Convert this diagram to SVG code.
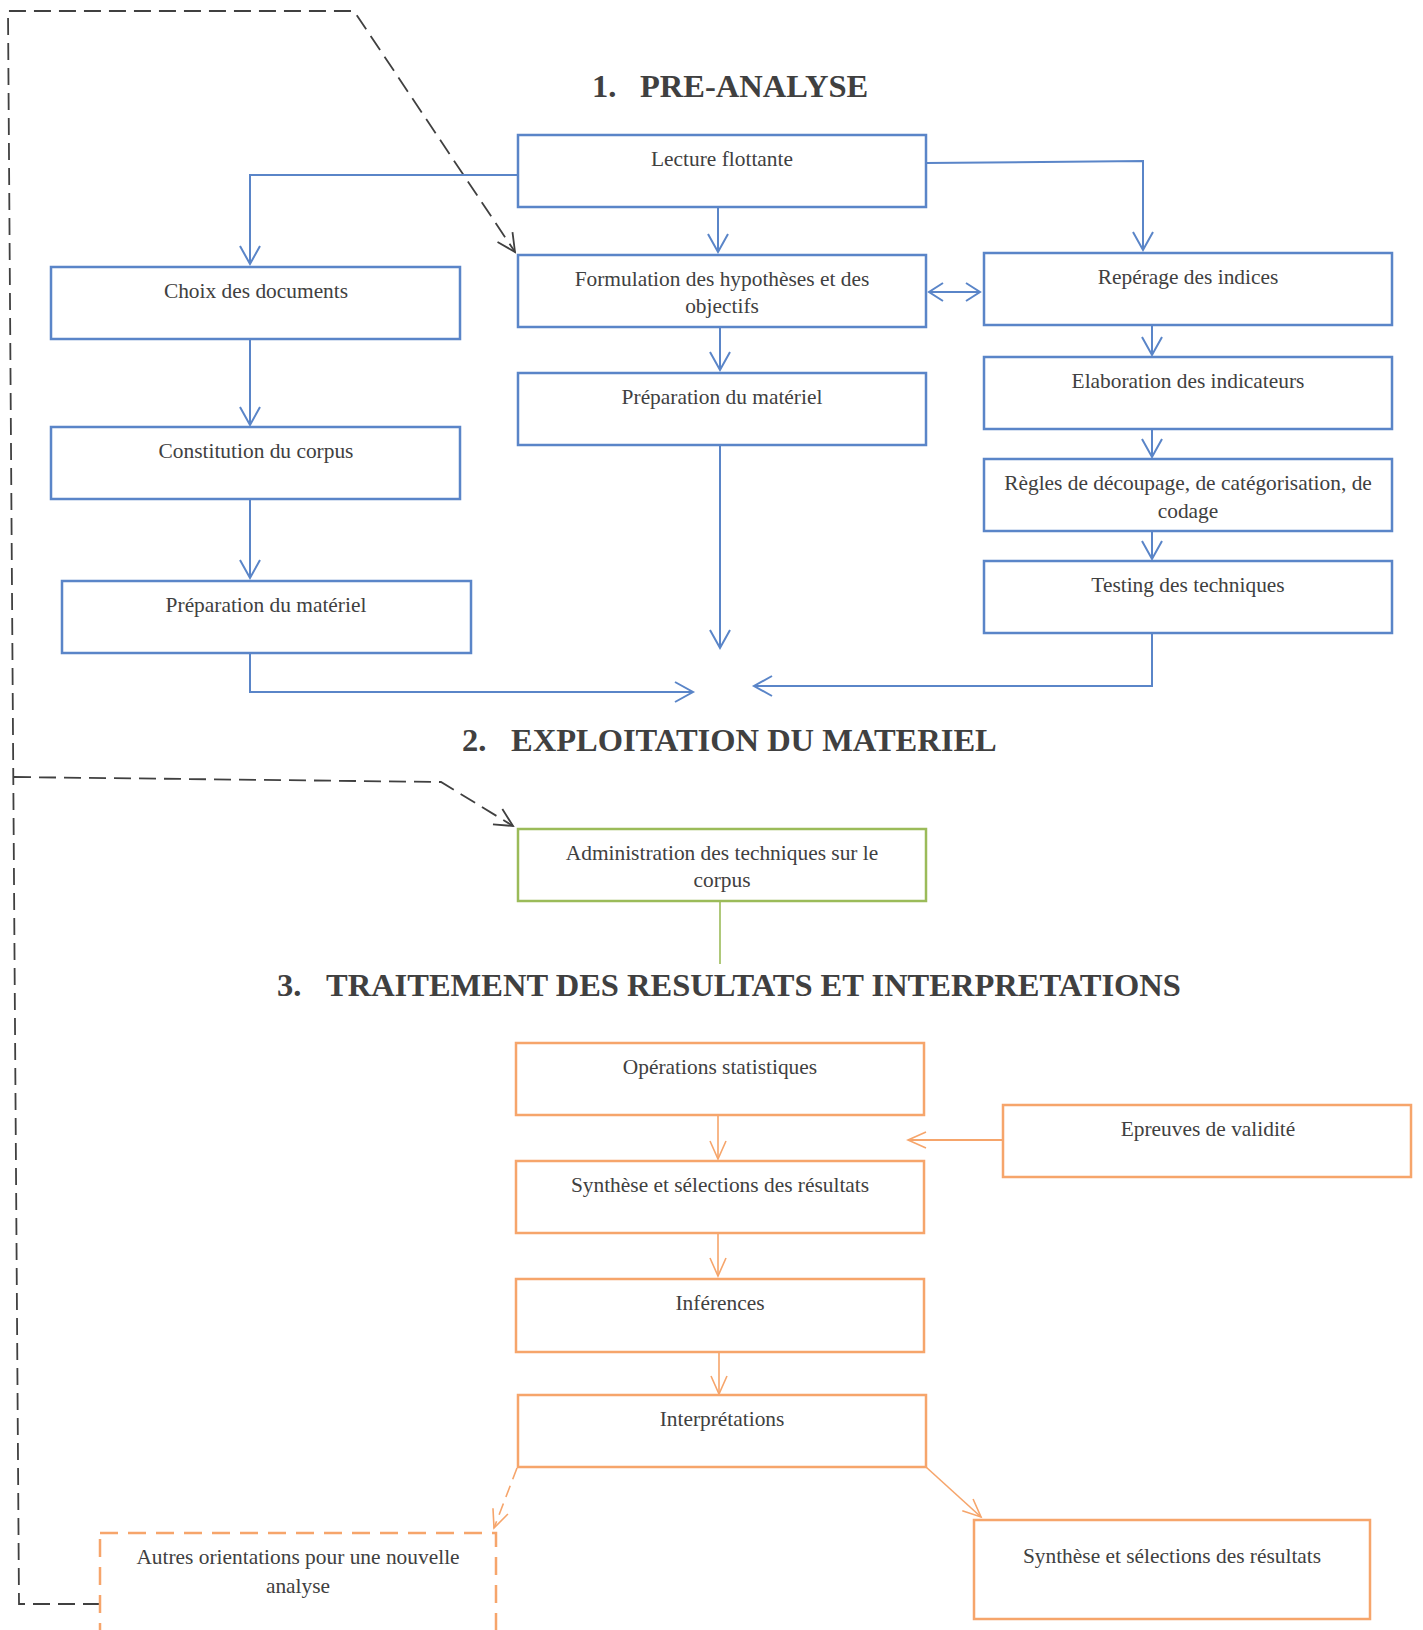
<svg xmlns="http://www.w3.org/2000/svg" width="1423" height="1630" viewBox="0 0 1423 1630">
<defs>
<style>
.t{font-family:"Liberation Serif","Times New Roman",serif;font-size:21.4px;fill:#404040;text-anchor:middle}
.h{font-family:"Liberation Serif","Times New Roman",serif;font-size:32.5px;font-weight:bold;fill:#404040}
.bb{fill:#fff;stroke:#5a85c8;stroke-width:2.5}
.ob{fill:#fff;stroke:#f6a56b;stroke-width:2.5}
.gb{fill:#fff;stroke:#9bbb59;stroke-width:2.5}
.bl{fill:none;stroke:#5a85c8;stroke-width:2}
.ol{fill:none;stroke:#f6a56b;stroke-width:1.6}
.dl{fill:none;stroke:#404040;stroke-width:1.8;stroke-dasharray:17 8}
</style>
<marker id="ab" markerWidth="24" markerHeight="24" viewBox="-20 -12 24 24" refX="0" refY="0" orient="auto" markerUnits="userSpaceOnUse"><path d="M-18,-10 L0,0 L-18,10" fill="none" stroke="#5a85c8" stroke-width="2"/></marker>
<marker id="abs" markerWidth="24" markerHeight="24" viewBox="-20 -12 24 24" refX="0" refY="0" orient="auto-start-reverse" markerUnits="userSpaceOnUse"><path d="M-14,-9 L0,0 L-14,9" fill="none" stroke="#5a85c8" stroke-width="2"/></marker>
<marker id="ao" markerWidth="24" markerHeight="24" viewBox="-20 -12 24 24" refX="0" refY="0" orient="auto" markerUnits="userSpaceOnUse"><path d="M-18,-8 L0,0 L-18,8" fill="none" stroke="#f6a56b" stroke-width="1.6"/></marker>
<marker id="ad" markerWidth="24" markerHeight="24" viewBox="-20 -12 24 24" refX="0" refY="0" orient="auto" markerUnits="userSpaceOnUse"><path d="M-18,-9 L0,0 L-18,9" fill="none" stroke="#404040" stroke-width="1.8"/></marker>
</defs>
<rect width="1423" height="1630" fill="#fff"/>

<g id="titles">
<text class="h" x="592" y="97">1.</text><text class="h" x="640" y="97">PRE-ANALYSE</text>
<text class="h" x="462" y="751">2.</text><text class="h" x="511" y="751">EXPLOITATION DU MATERIEL</text>
<text class="h" x="277" y="996">3.</text><text class="h" x="326" y="996">TRAITEMENT DES RESULTATS ET INTERPRETATIONS</text>
</g>

<g id="connectors">
<path class="dl" d="M100,1604 L19,1604 L8,11 L354,11 L515,252" marker-end="url(#ad)"/>
<path class="dl" d="M14,777 L441,782 L513,826" marker-end="url(#ad)"/>
<path class="bl" d="M518,175 L250,175 L250,264" marker-end="url(#ab)"/>
<path class="bl" d="M718,207 L718,252" marker-end="url(#ab)"/>
<path class="bl" d="M926,163 L1143,161 L1143,250" marker-end="url(#ab)"/>
<path class="bl" d="M929,292 L980,292" marker-start="url(#abs)" marker-end="url(#abs)"/>
<path class="bl" d="M720,327 L720,370" marker-end="url(#ab)"/>
<path class="bl" d="M720,445 L720,648" marker-end="url(#ab)"/>
<path class="bl" d="M1152,325 L1152,355" marker-end="url(#ab)"/>
<path class="bl" d="M1152,429 L1152,457" marker-end="url(#ab)"/>
<path class="bl" d="M1152,531 L1152,559" marker-end="url(#ab)"/>
<path class="bl" d="M1152,633 L1152,686 L754,686" marker-end="url(#ab)"/>
<path class="bl" d="M250,339 L250,425" marker-end="url(#ab)"/>
<path class="bl" d="M250,499 L250,578" marker-end="url(#ab)"/>
<path class="bl" d="M250,653 L250,692 L693,692" marker-end="url(#ab)"/>
<path d="M720,901 L720,964" fill="none" stroke="#9bbb59" stroke-width="1.6"/>
<path class="ol" d="M718,1115 L718,1159" marker-end="url(#ao)"/>
<path d="M1003,1140 L908,1140" fill="none" stroke="#f6a56b" stroke-width="2" marker-end="url(#ao)"/>
<path class="ol" d="M718,1233 L718,1276" marker-end="url(#ao)"/>
<path class="ol" d="M719,1352 L719,1394" marker-end="url(#ao)"/>
<path class="ol" d="M517,1468 L494,1528" stroke-dasharray="12 7" marker-end="url(#ao)"/>
<path class="ol" d="M926,1467 L981,1517" marker-end="url(#ao)"/>
</g>

<g id="n-lecture"><rect class="bb" x="518" y="135" width="408" height="72"/><text class="t" x="722" y="166">Lecture flottante</text></g>
<g id="n-choix"><rect class="bb" x="51" y="267" width="409" height="72"/><text class="t" x="256" y="298">Choix des documents</text></g>
<g id="n-formulation"><rect class="bb" x="518" y="255" width="408" height="72"/><text class="t" x="722" y="286">Formulation des hypothèses et des</text><text class="t" x="722" y="313">objectifs</text></g>
<g id="n-reperage"><rect class="bb" x="984" y="253" width="408" height="72"/><text class="t" x="1188" y="284">Repérage des indices</text></g>
<g id="n-prep-mid"><rect class="bb" x="518" y="373" width="408" height="72"/><text class="t" x="722" y="404">Préparation du matériel</text></g>
<g id="n-elaboration"><rect class="bb" x="984" y="357" width="408" height="72"/><text class="t" x="1188" y="388">Elaboration des indicateurs</text></g>
<g id="n-constitution"><rect class="bb" x="51" y="427" width="409" height="72"/><text class="t" x="256" y="458">Constitution du corpus</text></g>
<g id="n-regles"><rect class="bb" x="984" y="459" width="408" height="72"/><text class="t" x="1188" y="490">Règles de découpage, de catégorisation, de</text><text class="t" x="1188" y="518">codage</text></g>
<g id="n-testing"><rect class="bb" x="984" y="561" width="408" height="72"/><text class="t" x="1188" y="592">Testing des techniques</text></g>
<g id="n-prep-left"><rect class="bb" x="62" y="581" width="409" height="72"/><text class="t" x="266" y="612">Préparation du matériel</text></g>

<g id="n-administration"><rect class="gb" x="518" y="829" width="408" height="72"/><text class="t" x="722" y="860">Administration des techniques sur le</text><text class="t" x="722" y="887">corpus</text></g>

<g id="n-operations"><rect class="ob" x="516" y="1043" width="408" height="72"/><text class="t" x="720" y="1074">Opérations statistiques</text></g>
<g id="n-epreuves"><rect class="ob" x="1003" y="1105" width="408" height="72"/><text class="t" x="1208" y="1136">Epreuves de validité</text></g>
<g id="n-synthese"><rect class="ob" x="516" y="1161" width="408" height="72"/><text class="t" x="720" y="1192">Synthèse et sélections des résultats</text></g>
<g id="n-inferences"><rect class="ob" x="516" y="1279" width="408" height="73"/><text class="t" x="720" y="1310">Inférences</text></g>
<g id="n-interpretations"><rect class="ob" x="518" y="1395" width="408" height="72"/><text class="t" x="722" y="1426">Interprétations</text></g>
<g id="n-autres"><rect x="100" y="1533" width="396" height="120" fill="#fff" stroke="#f6a56b" stroke-width="2.5" stroke-dasharray="18 10"/><text class="t" x="298" y="1564">Autres orientations pour une nouvelle</text><text class="t" x="298" y="1593">analyse</text></g>
<g id="n-synthese2"><rect class="ob" x="974" y="1520" width="396" height="99"/><text class="t" x="1172" y="1563">Synthèse et sélections des résultats</text></g>
</svg>
